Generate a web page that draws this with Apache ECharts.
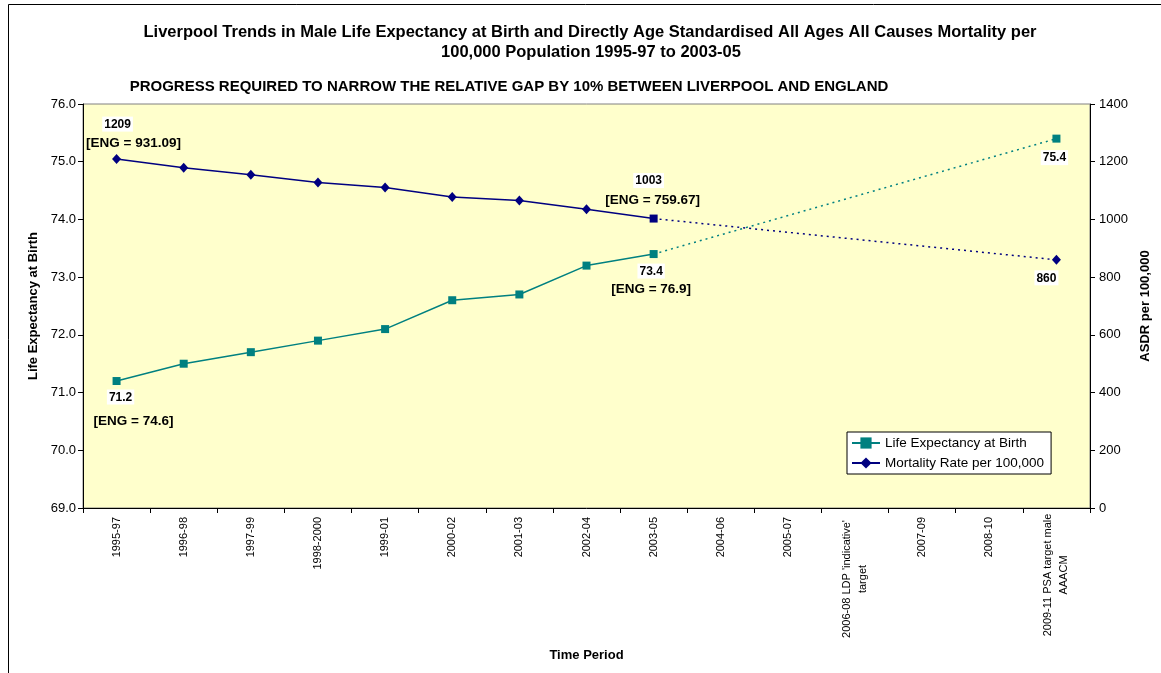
<!DOCTYPE html>
<html>
<head>
<meta charset="utf-8">
<script src="https://cdn.jsdelivr.net/npm/echarts@6/dist/echarts.min.js"></script>
<style>
  html, body { margin: 0; padding: 0; background: #fff; }
  #chart { width: 1161px; height: 673px; }
</style>
</head>
<body>
<div id="chart"></div>
<script>
// Time periods along the x axis
const periods = ['1995-97', '1996-98', '1997-99', '1998-2000', '1999-01', '2000-02', '2001-03',
  '2002-04', '2003-05', '2004-06', '2005-07', "2006-08 LDP 'indicative'\ntarget", '2007-09',
  '2008-10', '2009-11 PSA target male\nAAACM'];

// Observed Liverpool values, 1995-97 to 2003-05
const lifeExpectancy = [71.2, 71.5, 71.7, 71.9, 72.1, 72.6, 72.7, 73.2, 73.4];
const mortalityRate = [1209, 1179, 1155, 1128, 1111, 1078, 1066, 1035, 1003];

// Targets for 2009-11
const lifeExpectancyTarget = 75.4;
const mortalityTarget = 860;

// England comparators shown beside the first and latest observations
const englandLifeExpectancy = ['74.6', '76.9'];
const englandMortality = ['931.09', '759.67'];

// Axis ticks
const leftTicks = [69, 70, 71, 72, 73, 74, 75, 76];
const rightTicks = [0, 200, 400, 600, 800, 1000, 1200, 1400];

const TEAL = '#008080';
const NAVY = '#000080';
const FONT = '"Liberation Sans", Arial, sans-serif';
const last = lifeExpectancy.length - 1;
const targetIndex = periods.length - 1;

// Rich text pieces for the data labels
function richFor(lineHeight, spacer) {
  return {
    v: { fontSize: 12, fontWeight: 'bold', color: '#000', backgroundColor: '#fff',
         padding: [2, 2, 1, 2], lineHeight: lineHeight, fontFamily: FONT },
    e: { fontSize: 13.5, fontWeight: 'bold', color: '#000', lineHeight: lineHeight, fontFamily: FONT },
    g: { width: spacer, lineHeight: lineHeight, fontSize: 12 }
  };
}
function pairLabel(valueText, engText, offset, lineHeight, spacer) {
  const gap = spacer > 0 ? '{g| }' : '';
  return {
    show: true, position: 'inside', align: 'center', verticalAlign: 'middle',
    offset: offset,
    formatter: '{v|' + valueText + '}' + gap + '\n' + gap + '{e|[ENG = ' + engText + ']}',
    rich: richFor(lineHeight, spacer)
  };
}
function singleLabel(valueText, offset) {
  return {
    show: true, position: 'inside', align: 'center', verticalAlign: 'middle',
    offset: offset,
    formatter: '{v|' + valueText + '}',
    rich: richFor(16, 0)
  };
}

// Observed series data with labels on the first and latest points
const leData = lifeExpectancy.map((v, i) => {
  if (i === 0) return { value: v, label: pairLabel(v.toFixed(1), englandLifeExpectancy[0], [10.5, 28], 24, 13) };
  if (i === last) return { value: v, label: pairLabel(v.toFixed(1), englandLifeExpectancy[1], [-2.5, 26], 18, 0) };
  return v;
});
const mrData = mortalityRate.map((v, i) => {
  if (i === 0) return { value: v, label: pairLabel(String(v), englandMortality[0], [9, -25.5], 19, 16) };
  if (i === last) return { value: v, label: pairLabel(String(v), englandMortality[1], [-3, -28], 20, 4),
                           symbol: 'rect', symbolSize: 8 };
  return v;
});

// Projected paths from the latest observation to the 2009-11 target
const leTargetData = periods.map(() => null);
leTargetData[last] = { value: lifeExpectancy[last], symbol: 'none' };
leTargetData[targetIndex] = { value: lifeExpectancyTarget, label: singleLabel(lifeExpectancyTarget.toFixed(1), [-2, 19]) };
const mrTargetData = periods.map(() => null);
mrTargetData[last] = { value: mortalityRate[last], symbol: 'none' };
mrTargetData[targetIndex] = { value: mortalityTarget, label: singleLabel(String(mortalityTarget), [-10, 18]) };

const catRich = {
  c1: { width: 116, align: 'center', lineHeight: 16, fontSize: 11, color: '#000', fontFamily: FONT },
  c2: { width: 124, align: 'center', lineHeight: 16, fontSize: 11, color: '#000', fontFamily: FONT }
};

const chart = echarts.init(document.getElementById('chart'), null, { renderer: 'canvas' });
chart.setOption({
  animation: false,
  backgroundColor: '#fff',
  textStyle: { fontFamily: FONT },
  graphic: [
    { type: 'rect', silent: true, shape: { x: 8.5, y: 4.5, width: 1200, height: 700 },
      style: { fill: 'none', stroke: '#000', lineWidth: 1 } },
    { type: 'text', silent: true, x: 590, y: 32,
      style: { text: 'Liverpool Trends in Male Life Expectancy at Birth and Directly Age Standardised All Ages All Causes Mortality per',
               font: 'bold 16.5px ' + FONT, fill: '#000', textAlign: 'center', textVerticalAlign: 'middle' } },
    { type: 'text', silent: true, x: 591, y: 52,
      style: { text: '100,000 Population 1995-97 to 2003-05',
               font: 'bold 16.5px ' + FONT, fill: '#000', textAlign: 'center', textVerticalAlign: 'middle' } },
    { type: 'text', silent: true, x: 509, y: 87,
      style: { text: 'PROGRESS REQUIRED TO NARROW THE RELATIVE GAP BY 10% BETWEEN LIVERPOOL AND ENGLAND',
               font: 'bold 15px ' + FONT, fill: '#000', textAlign: 'center', textVerticalAlign: 'middle' } }
  ],
  grid: { left: 83, right: 71, top: 104, bottom: 165, show: true, outerBoundsMode: 'none',
          backgroundColor: '#FFFFCC', borderColor: '#808080', borderWidth: 1 },
  legend: {
    orient: 'vertical', left: 847, top: 432,
    data: ['Life Expectancy at Birth', 'Mortality Rate per 100,000'],
    backgroundColor: '#fff', borderColor: '#000', borderWidth: 1,
    padding: [4, 7, 4, 4], itemGap: 6, itemWidth: 28, itemHeight: 14,
    textStyle: { fontSize: 13.5, color: '#000', fontFamily: FONT }
  },
  xAxis: {
    type: 'category', data: periods, boundaryGap: true,
    axisLine: { lineStyle: { color: '#000', width: 1 } },
    axisTick: { show: true, length: 5, interval: 0, lineStyle: { color: '#000' } },
    axisLabel: {
      rotate: 90, interval: 0, fontSize: 11, color: '#000', margin: 9,
      formatter: function (val) {
        const parts = val.split('\n');
        if (parts.length === 1) return val;
        const key = parts[0].length > 23 ? 'c2' : 'c1';
        return parts.map(p => '{' + key + '|' + p + '}').join('\n');
      },
      rich: catRich
    },
    name: 'Time Period', nameLocation: 'middle', nameGap: 140,
    nameTextStyle: { fontWeight: 'bold', fontSize: 13, color: '#000' },
    splitLine: { show: false }
  },
  yAxis: [
    {
      type: 'value', position: 'left',
      min: leftTicks[0], max: leftTicks[leftTicks.length - 1], interval: leftTicks[1] - leftTicks[0],
      axisLine: { show: true, lineStyle: { color: '#000' } },
      axisTick: { show: true, length: 5, lineStyle: { color: '#000' } },
      axisLabel: { fontSize: 13, color: '#000', margin: 7, formatter: v => v.toFixed(1) },
      splitLine: { show: false },
      name: 'Life Expectancy at Birth', nameLocation: 'middle', nameRotate: 90, nameGap: 43,
      nameTextStyle: { fontWeight: 'bold', fontSize: 13, color: '#000' }
    },
    {
      type: 'value', position: 'right',
      min: rightTicks[0], max: rightTicks[rightTicks.length - 1], interval: rightTicks[1] - rightTicks[0],
      axisLine: { show: true, lineStyle: { color: '#000' } },
      axisTick: { show: true, length: 5, lineStyle: { color: '#000' } },
      axisLabel: { fontSize: 13, color: '#000', margin: 9, formatter: v => String(v) },
      splitLine: { show: false },
      name: 'ASDR per 100,000', nameLocation: 'middle', nameRotate: 90, nameGap: 49,
      nameTextStyle: { fontWeight: 'bold', fontSize: 13, color: '#000' }
    }
  ],
  series: [
    {
      name: 'Life Expectancy at Birth', type: 'line', yAxisIndex: 0, data: leData,
      symbol: 'rect', symbolSize: 8, color: TEAL,
      lineStyle: { color: TEAL, width: 1.5 }, itemStyle: { color: TEAL }, z: 3
    },
    {
      name: 'Mortality Rate per 100,000', type: 'line', yAxisIndex: 1, data: mrData,
      symbol: 'diamond', symbolSize: [9, 10], color: NAVY,
      lineStyle: { color: NAVY, width: 1.5 }, itemStyle: { color: NAVY }, z: 3
    },
    {
      name: 'Life Expectancy target', type: 'line', yAxisIndex: 0, data: leTargetData,
      connectNulls: true, symbol: 'rect', symbolSize: 8,
      lineStyle: { color: TEAL, width: 1.5, type: [2, 4] }, itemStyle: { color: TEAL }, z: 2
    },
    {
      name: 'Mortality target', type: 'line', yAxisIndex: 1, data: mrTargetData,
      connectNulls: true, symbol: 'diamond', symbolSize: [9, 10],
      lineStyle: { color: NAVY, width: 1.5, type: [2, 4] }, itemStyle: { color: NAVY }, z: 2
    }
  ]
});
</script>
</body>
</html>
